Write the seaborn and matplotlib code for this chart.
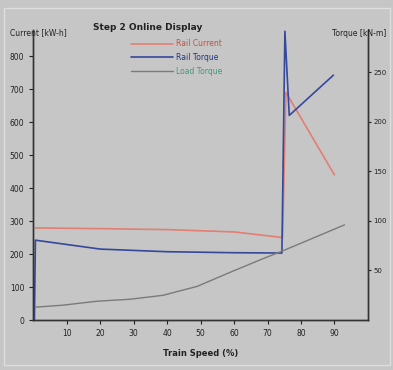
import pandas as pd
import matplotlib
matplotlib.use('Agg')
import matplotlib.pyplot as plt
import seaborn as sns
from matplotlib.patches import Rectangle

# values
speed_red = [0.6, 20, 40, 60, 74.5, 75.5, 90]
current_red = [279, 277, 274, 267, 250, 690, 440]

speed_blue = [0.3, 0.6, 20, 40, 60, 74.3, 75.2, 76.5, 89.7]
current_blue = [0, 242, 215, 207, 204, 203, 875, 620, 742]

speed_gray = [0.5, 8.8, 19, 29, 38.8, 49, 58, 68, 74.7, 93]
torque_gray = [13, 15, 19, 21, 25, 34, 47, 61, 70, 96]

x_ticks = [10, 20, 30, 40, 50, 60, 70, 80, 90]
left_ticks = [0, 100, 200, 300, 400, 500, 600, 700, 800]
right_ticks = [50, 100, 150, 200, 250]

labels = ['Rail Current', 'Rail Torque', 'Load Torque']
line_colors = ['#e27e72', '#34489c', '#7a7a7a']
text_colors = ['#c8503c', '#23357e', '#3f9a7a']

bg = '#c6c6c6'
sns.set_theme(style='white', rc={'axes.facecolor': bg, 'figure.facecolor': bg})
plt.rcParams['font.family'] = ['DejaVu Sans']

fig = plt.figure(figsize=(3.93, 3.70), dpi=100)
ax = fig.add_axes([0.085, 0.135, 0.851, 0.785])
ax2 = ax.twinx()

red = pd.DataFrame({'speed': speed_red, 'val': current_red})
blue = pd.DataFrame({'speed': speed_blue, 'val': current_blue})
gray = pd.DataFrame({'speed': speed_gray, 'val': torque_gray})

sns.lineplot(data=red, x='speed', y='val', sort=False, ax=ax, color=line_colors[0], lw=1.2, label=labels[0])
sns.lineplot(data=blue, x='speed', y='val', sort=False, ax=ax, color=line_colors[1], lw=1.2, label=labels[1])
sns.lineplot(data=gray, x='speed', y='val', sort=False, ax=ax2, color=line_colors[2], lw=1.0, label=labels[2])

ax.set_xlim(0, 100)
ax.set_ylim(0, 880)
ax2.set_ylim(0, 293)
ax.set_xticks(x_ticks)
ax.set_yticks(left_ticks)
ax2.set_yticks(right_ticks)
for a in (ax, ax2):
    a.tick_params(labelsize=5.5, length=3, width=0.8, colors='#222222')
    a.set_ylabel('')
    for s in a.spines.values():
        s.set_color('#333333')
        s.set_linewidth(1.0)
    a.spines['top'].set_visible(False)
ax.tick_params(axis='both', direction='out', left=True, bottom=True)
ax2.tick_params(axis='y', direction='out', right=True, labelsize=5, length=2.5, pad=1.5)
ax.set_xlabel('Train Speed (%)', fontsize=6, fontweight='bold', color='#222222', labelpad=8)

# combined legend
h1, l1 = ax.get_legend_handles_labels()
h2, l2 = ax2.get_legend_handles_labels()
ax2.get_legend().remove()
ax.legend(h1 + h2, l1 + l2, loc='upper left', bbox_to_anchor=(0.27, 0.99), frameon=False,
          fontsize=5.5, handlelength=5.5, handletextpad=0.5, labelspacing=0.6, labelcolor=text_colors)

fig.text(148 / 393, 1 - 27 / 370, 'Step 2 Online Display', fontsize=6.5, fontweight='bold',
         ha='center', va='center', color='#222222')
fig.text(10 / 393, 1 - 33 / 370, 'Current [kW-h]', fontsize=5.5, ha='left', va='center', color='#222222')
fig.text(386 / 393, 1 - 33 / 370, 'Torque [kN-m]', fontsize=5.5, ha='right', va='center', color='#222222')

# thin light frame around the panel
fig.patches.append(Rectangle((4 / 393, 5 / 370), 386 / 393, 357 / 370, transform=fig.transFigure,
                             fill=False, edgecolor='#dedede', lw=1.0))

fig.savefig('out.png', dpi=100, facecolor=bg)
